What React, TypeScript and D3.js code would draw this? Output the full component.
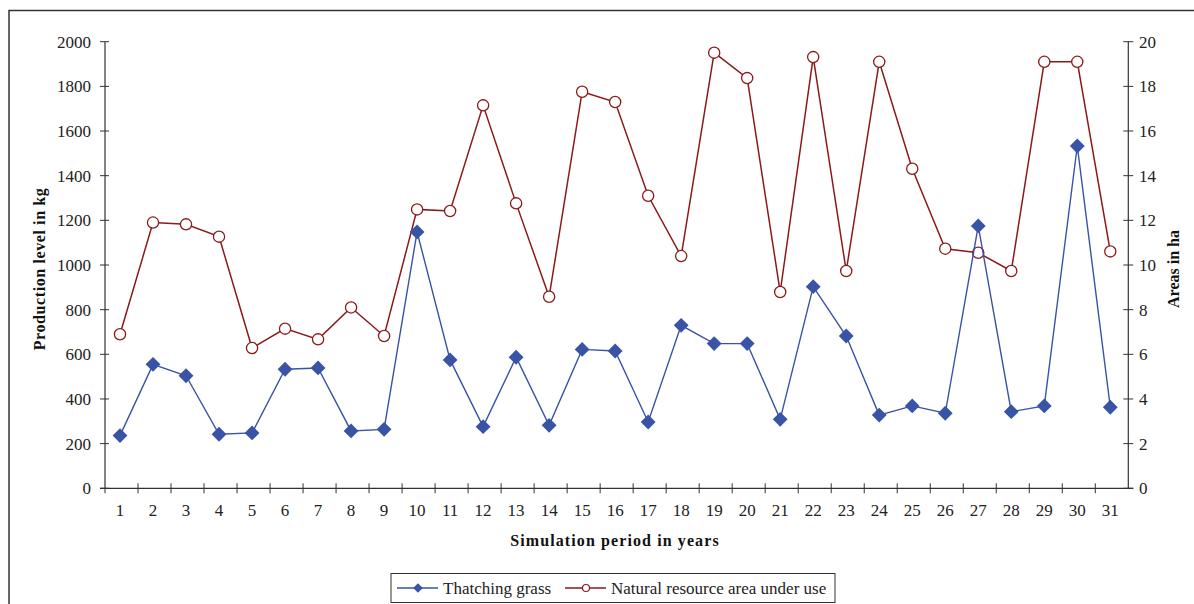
import React, { useEffect, useRef } from "react";
import * as d3 from "d3";

const years = d3.range(1, 32).map(String);
const grassKg = [236, 555, 504, 242, 248, 533, 539, 257, 264, 1148, 575, 276, 587, 282, 622, 615, 297, 730, 648, 648, 309, 903, 682, 328, 369, 336, 1175, 343, 369, 1533, 363];
const areaHa = [6.9, 11.9, 11.82, 11.27, 6.28, 7.15, 6.67, 8.1, 6.82, 12.49, 12.42, 17.15, 12.76, 8.58, 17.76, 17.3, 13.1, 10.4, 19.51, 18.37, 8.79, 19.31, 9.73, 19.1, 14.31, 10.73, 10.55, 9.73, 19.1, 19.1, 10.61];
const leftTicks = [0, 200, 400, 600, 800, 1000, 1200, 1400, 1600, 1800, 2000];
const rightTicks = [0, 2, 4, 6, 8, 10, 12, 14, 16, 18, 20];
const seriesNames = ["Thatching grass", "Natural resource area under use"];

const BLUE = "#3953a5";
const RED = "#8b1a1a";
const AXIS = "#333333";
const FONT = "'Liberation Serif', 'Times New Roman', serif";

export default function App() {
  const ref = useRef<SVGSVGElement>(null);
  useEffect(() => {
    const svg = d3.select(ref.current);
    svg.selectAll("*").remove();
    const left = 105, right = 1128.3, top = 41.7, bottom = 488.3;

    // outer border
    svg.append("rect").attr("x", 9).attr("y", 10.5).attr("width", 1300).attr("height", 700)
      .attr("fill", "none").attr("stroke", AXIS).attr("stroke-width", 1.5);

    const x = d3.scaleBand<string>().domain(years).range([left, right]);
    const yL = d3.scaleLinear().domain([0, 2000]).range([bottom, top]);
    const yR = d3.scaleLinear().domain([0, 20]).range([bottom, top]);
    const cx = (d: string) => (x(d) as number) + x.bandwidth() / 2 - 1.5;

    const g = svg.append("g");
    // left axis
    g.append("line").attr("x1", left).attr("x2", left).attr("y1", top).attr("y2", bottom).attr("stroke", AXIS).attr("stroke-width", 1.2);
    leftTicks.forEach(t => {
      g.append("line").attr("x1", left - 5).attr("x2", left + 4).attr("y1", yL(t)).attr("y2", yL(t)).attr("stroke", AXIS).attr("stroke-width", 1);
      g.append("text").attr("x", 91).attr("y", yL(t)).attr("dy", "0.35em").attr("text-anchor", "end")
        .attr("font-family", FONT).attr("font-size", 17).attr("fill", "#222").text(String(t));
    });
    // right axis
    g.append("line").attr("x1", right).attr("x2", right).attr("y1", top).attr("y2", bottom).attr("stroke", AXIS).attr("stroke-width", 1.2);
    rightTicks.forEach(t => {
      g.append("line").attr("x1", right - 5).attr("x2", right + 5).attr("y1", yR(t)).attr("y2", yR(t)).attr("stroke", AXIS).attr("stroke-width", 1);
      g.append("text").attr("x", 1139).attr("y", yR(t)).attr("dy", "0.35em").attr("text-anchor", "start")
        .attr("font-family", FONT).attr("font-size", 17).attr("fill", "#222").text(String(t));
    });
    // x axis
    g.append("line").attr("x1", left - 5).attr("x2", right + 5).attr("y1", bottom).attr("y2", bottom).attr("stroke", AXIS).attr("stroke-width", 1.2);
    years.forEach((d, i) => {
      const bx = (x(d) as number) + x.bandwidth();
      if (i < years.length - 1) {
        g.append("line").attr("x1", bx).attr("x2", bx).attr("y1", bottom - 5).attr("y2", bottom + 5).attr("stroke", AXIS).attr("stroke-width", 1);
      }
      g.append("text").attr("x", cx(d)).attr("y", 516).attr("text-anchor", "middle")
        .attr("font-family", FONT).attr("font-size", 17).attr("fill", "#222").text(d);
    });
    g.append("line").attr("x1", left).attr("x2", left).attr("y1", bottom).attr("y2", bottom + 5).attr("stroke", AXIS);

    // axis titles
    svg.append("text").attr("x", 615).attr("y", 546).attr("text-anchor", "middle")
      .attr("font-family", FONT).attr("font-size", 16).attr("font-weight", "bold").attr("letter-spacing", "1.1px")
      .attr("fill", "#111").text("Simulation period in years");
    svg.append("text").attr("transform", "translate(45,269) rotate(-90)").attr("text-anchor", "middle")
      .attr("font-family", FONT).attr("font-size", 16).attr("font-weight", "bold").attr("letter-spacing", "0.6px").attr("fill", "#111")
      .text("Production level in kg");
    svg.append("text").attr("transform", "translate(1179,269) rotate(-90)").attr("text-anchor", "middle")
      .attr("font-family", FONT).attr("font-size", 16).attr("font-weight", "bold").attr("fill", "#111")
      .text("Areas in ha");

    // red series
    const redLine = d3.line<number>().x((_, i) => cx(years[i])).y(v => yR(v));
    svg.append("path").attr("d", redLine(areaHa)).attr("fill", "none").attr("stroke", RED).attr("stroke-width", 1.5);
    svg.append("g").selectAll("circle").data(areaHa).join("circle")
      .attr("cx", (_, i) => cx(years[i])).attr("cy", v => yR(v)).attr("r", 5.6)
      .attr("fill", "#fff").attr("stroke", RED).attr("stroke-width", 1.3);

    // blue series
    const blueLine = d3.line<number>().x((_, i) => cx(years[i])).y(v => yL(v));
    svg.append("path").attr("d", blueLine(grassKg)).attr("fill", "none").attr("stroke", BLUE).attr("stroke-width", 1.4);
    const diamond = d3.symbol().type(d3.symbolDiamond2).size(140);
    svg.append("g").selectAll("path").data(grassKg).join("path")
      .attr("d", diamond() as string)
      .attr("transform", (v, i) => `translate(${cx(years[i])},${yL(v)})`)
      .attr("fill", BLUE);

    // legend
    const lg = svg.append("g");
    lg.append("rect").attr("x", 391).attr("y", 573.5).attr("width", 444).attr("height", 29)
      .attr("fill", "#fff").attr("stroke", AXIS).attr("stroke-width", 1);
    const ly = 588;
    lg.append("line").attr("x1", 397).attr("x2", 438).attr("y1", ly).attr("y2", ly).attr("stroke", BLUE).attr("stroke-width", 1.4);
    lg.append("path").attr("d", d3.symbol().type(d3.symbolDiamond2).size(60)() as string)
      .attr("transform", `translate(418,${ly})`).attr("fill", BLUE);
    lg.append("text").attr("x", 443).attr("y", ly).attr("dy", "0.35em").attr("font-family", FONT).attr("font-size", 17).attr("fill", "#222").text(seriesNames[0]);
    lg.append("line").attr("x1", 565).attr("x2", 606).attr("y1", ly).attr("y2", ly).attr("stroke", RED).attr("stroke-width", 1.4);
    lg.append("circle").attr("cx", 586).attr("cy", ly).attr("r", 3.5).attr("fill", "#fff").attr("stroke", RED).attr("stroke-width", 1.2);
    lg.append("text").attr("x", 611).attr("y", ly).attr("dy", "0.35em").attr("font-family", FONT).attr("font-size", 17).attr("fill", "#222").text(seriesNames[1]);
  }, []);
  return (
    <svg ref={ref} width={1194} height={604} style={{ position: "absolute", left: 0, top: 0, background: "#fff" }} />
  );
}
